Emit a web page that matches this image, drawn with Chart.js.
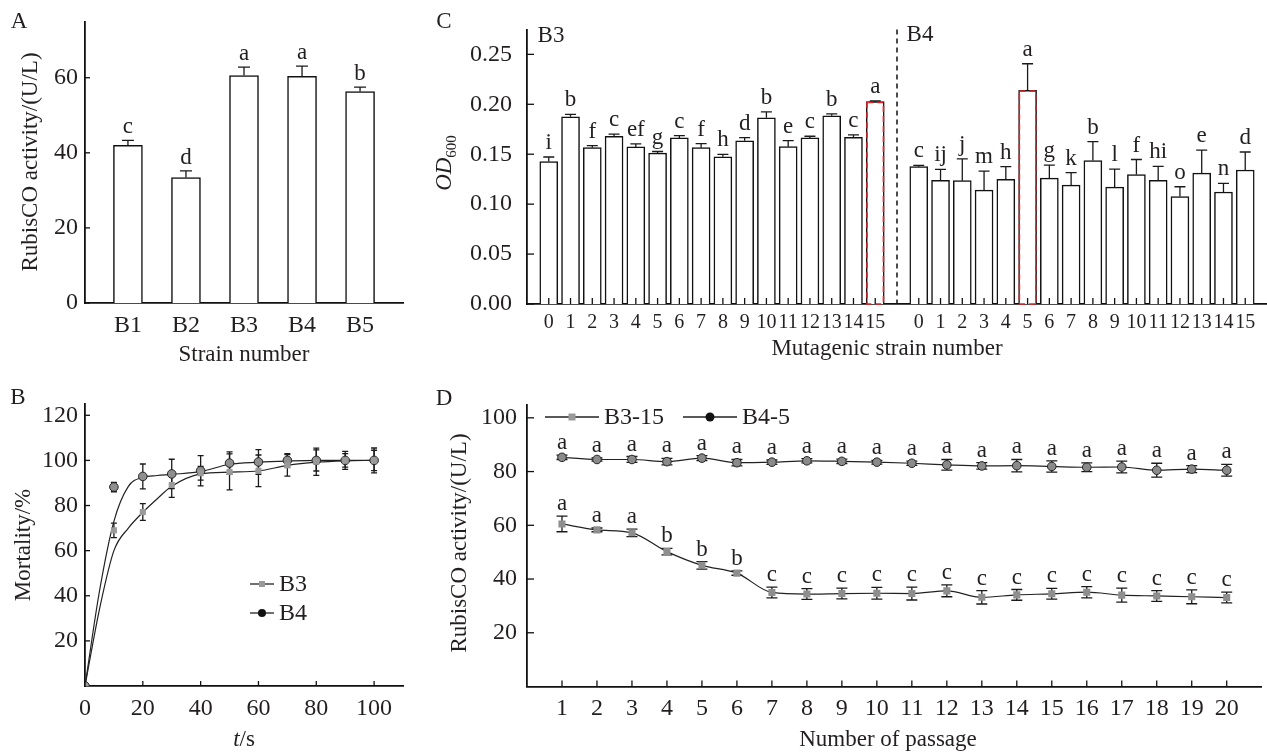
<!DOCTYPE html>
<html>
<head>
<meta charset="utf-8">
<script src="https://cdn.jsdelivr.net/npm/chart.js@4.4.1/dist/chart.umd.min.js"></script>
<style>
body { margin: 0; background: #fff; width: 1267px; height: 753px; position: relative; overflow: hidden;
       font-family: "Liberation Serif", "Times New Roman", serif; color: #231f20; }
.panel { position: absolute; }
.t { position: absolute; white-space: nowrap; font-size: 23px; line-height: 1; transform: translate(-50%, -50%); }
.r { transform: translate(-50%, -50%) rotate(-90deg); }
.sub { font-size: 15px; position: relative; top: 5px; }
</style>
</head>
<body>
<div class="panel" style="left:0;top:0;width:420px;height:380px"><canvas id="cA"></canvas></div>
<div class="panel" style="left:0;top:380px;width:420px;height:373px"><canvas id="cB"></canvas></div>
<div class="panel" style="left:420px;top:0;width:847px;height:380px"><canvas id="cC"></canvas></div>
<div class="panel" style="left:420px;top:380px;width:847px;height:373px"><canvas id="cD"></canvas></div>

<div class="t" style="left:19px;top:20px">A</div>
<div class="t r" style="left:29px;top:162px">RubisCO activity/(U/L)</div>
<div class="t" style="left:244px;top:353px">Strain number</div>

<div class="t" style="left:18px;top:396px">B</div>
<div class="t r" style="left:22px;top:545px">Mortality/%</div>
<div class="t" style="left:244px;top:738px"><i>t</i>/s</div>

<div class="t" style="left:444px;top:20px">C</div>
<div class="t r" style="left:443px;top:163px"><i>OD</i><span class="sub">600</span></div>
<div class="t" style="left:887px;top:347px">Mutagenic strain number</div>
<div class="t" style="left:551px;top:34px">B3</div>
<div class="t" style="left:920px;top:33px">B4</div>

<div class="t" style="left:444px;top:397px">D</div>
<div class="t r" style="left:458px;top:543px">RubisCO activity/(U/L)</div>
<div class="t" style="left:888px;top:738px">Number of passage</div>

<script>
// A - RubisCO activity of the five strains
const strainsA = ["B1", "B2", "B3", "B4", "B5"];
const actA = [42.0, 33.4, 60.6, 60.4, 56.3];
const errA = [1.3, 1.8, 2.2, 2.7, 1.2];
const letA = ["c", "d", "a", "a", "b"];
const ticksA = [0, 20, 40, 60];

// B - mortality vs time
const timeB = [0, 10, 20, 30, 40, 50, 60, 70, 80, 90, 100];
const seriesB = ["B3", "B4"];
const mortB3 = [0, 69.0, 77.1, 89.1, 94.3, 94.9, 95.4, 97.8, 99.4, 100, 100];
const errB3 = [0, 3.2, 3.7, 5.5, 3.0, 8.0, 7.0, 4.8, 6.0, 3.0, 4.5];
const mortB4 = [0, 88.2, 92.9, 94.0, 95.4, 98.8, 99.3, 100, 100, 100, 100];
const errB4 = [0, 2.1, 5.5, 6.5, 6.7, 5.0, 5.5, 3.0, 4.7, 4.0, 5.5];
// fitted curves
const fitT = [0, 5, 10, 15, 20, 25, 30, 40, 50, 60, 70, 80, 90, 100];
const fitB3 = [0, 34, 60, 70, 77, 83, 88.5, 94, 94.8, 95.3, 97.8, 99.2, 99.8, 100];
const fitB4 = [0, 42, 73, 88.5, 92.5, 93.3, 93.8, 95, 98.3, 99.2, 99.7, 100, 100, 100];
const ticksBy = [20, 40, 60, 80, 100, 120];
const ticksBx = [0, 20, 40, 60, 80, 100];

// C - OD600 of mutagenic strains
const strainNo = ["0", "1", "2", "3", "4", "5", "6", "7", "8", "9", "10", "11", "12", "13", "14", "15"];
const odB3 = [0.1427, 0.1874, 0.1566, 0.168, 0.1573, 0.1511, 0.1663, 0.1566, 0.1475, 0.1634, 0.1864, 0.1576, 0.1663, 0.1884, 0.167, 0.2026];
const errC3 = [0.0045, 0.0026, 0.002, 0.0022, 0.003, 0.0016, 0.0023, 0.004, 0.0023, 0.0033, 0.006, 0.006, 0.0017, 0.002, 0.0023, 0.0007];
const letC3 = ["i", "b", "f", "c", "ef", "g", "c", "f", "h", "d", "b", "e", "c", "b", "c", "a"];
const odB4 = [0.1375, 0.1239, 0.1235, 0.1141, 0.1248, 0.214, 0.1261, 0.119, 0.1436, 0.117, 0.1297, 0.1239, 0.1077, 0.131, 0.1122, 0.1342];
const errC4 = [0.0013, 0.011, 0.0218, 0.019, 0.0127, 0.0266, 0.013, 0.0126, 0.019, 0.018, 0.015, 0.014, 0.0097, 0.023, 0.0087, 0.018];
const letC4 = ["c", "ij", "j", "m", "h", "a", "g", "k", "b", "l", "f", "hi", "o", "e", "n", "d"];
const ticksC = [0, 0.05, 0.10, 0.15, 0.20, 0.25];
const bestC3 = 15, bestC4 = 5;

// D - RubisCO activity over passages
const passage = [1, 2, 3, 4, 5, 6, 7, 8, 9, 10, 11, 12, 13, 14, 15, 16, 17, 18, 19, 20];
const seriesD = ["B3-15", "B4-5"];
const actD3 = [60.5, 58.3, 57.2, 50.2, 45.1, 42.2, 35.0, 34.4, 34.6, 34.7, 34.6, 35.6, 33.2, 34.1, 34.5, 35.1, 34.0, 33.7, 33.4, 33.1];
const errD3 = [2.9, 0.7, 1.4, 1.2, 1.4, 0.8, 2.0, 2.0, 2.0, 2.2, 2.4, 2.2, 2.5, 2.0, 2.0, 2.1, 2.6, 2.0, 2.6, 2.0];
const letD3 = ["a", "a", "a", "b", "b", "b", "c", "c", "c", "c", "c", "c", "c", "c", "c", "c", "c", "c", "c", "c"];
const actD4 = [85.3, 84.5, 84.5, 83.7, 85.0, 83.3, 83.5, 84.0, 83.8, 83.5, 83.1, 82.5, 82.1, 82.2, 81.9, 81.6, 81.7, 80.5, 80.9, 80.5];
const errD4 = [0.8, 0.6, 1.1, 1.2, 0.9, 1.2, 0.8, 0.8, 0.8, 0.7, 0.8, 2.0, 1.2, 2.3, 2.1, 1.6, 2.2, 2.6, 1.3, 2.2];
const letD4 = passage.map(() => "a");
const ticksD = [20, 40, 60, 80, 100];

const INK = "#231f20";
const FONT = '"Liberation Serif", "Times New Roman", serif';
Chart.defaults.font.family = FONT;
Chart.defaults.font.size = 24;
Chart.defaults.color = INK;

// error bars, letters, red dashed boxes, divider, inward ticks, legend
const deco = {
    id: "deco",
    beforeDatasetsDraw(chart, args, o) {
        const ctx = chart.ctx;
        ctx.save();
        ctx.strokeStyle = "#1a1a1a";
        ctx.lineWidth = 1.3;
        (o.err || []).forEach(s => {
            const meta = chart.getDatasetMeta(s.ds);
            const data = chart.data.datasets[s.ds].data;
            meta.data.forEach((el, j) => {
                const e = s.val[j];
                if (!e) return;
                const v = data[j].y;
                const yt = meta.yScale.getPixelForValue(v + e);
                const yb = meta.yScale.getPixelForValue(s.upOnly ? v : v - e);
                const h = s.cap / 2;
                ctx.beginPath();
                ctx.moveTo(el.x, yb); ctx.lineTo(el.x, yt);
                ctx.moveTo(el.x - h, yt); ctx.lineTo(el.x + h, yt);
                if (!s.upOnly) { ctx.moveTo(el.x - h, yb); ctx.lineTo(el.x + h, yb); }
                ctx.stroke();
            });
        });
        ctx.restore();
    },
    afterDatasetsDraw(chart, args, o) {
        const ctx = chart.ctx, area = chart.chartArea;
        ctx.save();

        ctx.fillStyle = INK;
        ctx.font = "23px " + FONT;
        ctx.textAlign = "center";
        ctx.textBaseline = "alphabetic";
        (o.err || []).forEach(s => {
            if (!s.text) return;
            const meta = chart.getDatasetMeta(s.ds);
            const data = chart.data.datasets[s.ds].data;
            meta.data.forEach((el, j) => {
                const yt = meta.yScale.getPixelForValue(data[j].y + s.val[j]);
                ctx.fillText(s.text[j], el.x, yt - s.gap);
            });
        });

        (o.mark || []).forEach(m => {
            const el = chart.getDatasetMeta(m.ds).data[m.idx];
            ctx.strokeStyle = "#e3262b";
            ctx.lineWidth = 1.6;
            ctx.setLineDash([6, 4]);
            ctx.strokeRect(el.x - el.width / 2 + 0.8, el.y + 0.8, el.width - 1.6, el.base - el.y - 0.8);
            ctx.setLineDash([]);
        });

        if (o.divider != null) {
            const x = chart.scales.x.getPixelForValue(o.divider);
            ctx.strokeStyle = "#111";
            ctx.lineWidth = 1.5;
            ctx.setLineDash([5, 4]);
            ctx.beginPath();
            ctx.moveTo(x, area.top); ctx.lineTo(x, area.bottom);
            ctx.stroke();
            ctx.setLineDash([]);
        }

        (o.ticks || []).forEach(t => {
            const sc = chart.scales[t.id];
            ctx.strokeStyle = "#111";
            ctx.lineWidth = 1.3;
            sc.ticks.forEach(tk => {
                const p = sc.getPixelForValue(tk.value);
                ctx.beginPath();
                if (sc.isHorizontal()) { ctx.moveTo(p, area.bottom); ctx.lineTo(p, area.bottom - t.len); }
                else { ctx.moveTo(area.left, p); ctx.lineTo(area.left + t.len, p); }
                ctx.stroke();
            });
        });

        (o.legend || []).forEach(it => {
            ctx.strokeStyle = "#222";
            ctx.lineWidth = 1.3;
            ctx.beginPath();
            ctx.moveTo(it.x1, it.y); ctx.lineTo(it.x2, it.y);
            ctx.stroke();
            ctx.fillStyle = it.fill;
            const m = (it.x1 + it.x2) / 2;
            if (it.shape === "rect") {
                ctx.fillRect(m - it.size / 2, it.y - it.size / 2, it.size, it.size);
            } else {
                ctx.beginPath();
                ctx.arc(m, it.y, it.size / 2, 0, Math.PI * 2);
                ctx.fill();
            }
            ctx.fillStyle = INK;
            ctx.font = "24px " + FONT;
            ctx.textAlign = "left";
            ctx.textBaseline = "middle";
            ctx.fillText(it.text, it.x2 + 5, it.y + 1);
        });

        ctx.restore();
    }
};

function yAxis(min, max, ticks, width, pad, fmt) {
    return {
        type: "linear", min: min, max: max,
        afterFit: s => { s.width = width; },
        afterBuildTicks: s => { s.ticks = ticks.map(v => ({ value: v })); },
        grid: { display: false, drawTicks: false },
        border: { display: true, color: "#111", width: 1.8 },
        ticks: { padding: pad, callback: fmt || (v => v) }
    };
}

function xAxis(min, max, pos, height, pad, labels, size) {
    return {
        type: "linear", min: min, max: max, offset: false,
        afterFit: s => { s.height = height; },
        afterBuildTicks: s => { s.ticks = pos.map(v => ({ value: v })); },
        grid: { display: false, drawTicks: false, offset: false },
        border: { display: true, color: "#111", width: 1.8 },
        ticks: {
            padding: pad, autoSkip: false, maxRotation: 0, minRotation: 0,
            font: { size: size || 24 },
            callback: (v, i) => labels[i]
        }
    };
}

const base = {
    animation: false,
    responsive: true,
    maintainAspectRatio: false,
    events: []
};

// ---------- A ----------
new Chart(document.getElementById("cA"), {
    type: "bar",
    data: {
        datasets: [{
            data: strainsA.map((s, i) => ({ x: i + 1, y: actA[i] })),
            backgroundColor: "#fff", borderColor: "#111", borderWidth: 1.5,
            barThickness: 29, grouped: false
        }]
    },
    options: Object.assign({}, base, {
        layout: { padding: { top: 20, right: 17, left: 0, bottom: 0 } },
        plugins: {
            legend: { display: false }, tooltip: { enabled: false },
            deco: {
                err: [{ ds: 0, val: errA, upOnly: true, cap: 12, text: letA, gap: 7 }],
                ticks: [{ id: "y", len: 5 }]
            }
        },
        scales: {
            x: xAxis(0.26, 5.74, strainsA.map((s, i) => i + 1), 77, 8, strainsA),
            y: yAxis(0, 75, ticksA, 85, 7)
        }
    }),
    plugins: [deco]
});

// ---------- B ----------
new Chart(document.getElementById("cB"), {
    type: "line",
    data: {
        datasets: [
            {
                label: seriesB[0], data: timeB.map((t, i) => ({ x: t, y: mortB3[i] })), showLine: false,
                pointStyle: "rect", pointRadius: 4.3, pointBackgroundColor: "#9a9a9a", pointBorderColor: "#9a9a9a", pointBorderWidth: 0
            },
            {
                label: seriesB[1], data: timeB.map((t, i) => ({ x: t, y: mortB4[i] })), showLine: false,
                pointStyle: "circle", pointRadius: 4.3, pointBackgroundColor: "#8f8f8f", pointBorderColor: "#222", pointBorderWidth: 1
            },
            {
                data: fitT.map((t, i) => ({ x: t, y: fitB3[i] })), pointRadius: 0,
                borderColor: "#222", borderWidth: 1.2, cubicInterpolationMode: "monotone"
            },
            {
                data: fitT.map((t, i) => ({ x: t, y: fitB4[i] })), pointRadius: 0,
                borderColor: "#222", borderWidth: 1.2, cubicInterpolationMode: "monotone"
            }
        ]
    },
    options: Object.assign({}, base, {
        layout: { padding: { top: 24, right: 17, left: 0, bottom: 0 } },
        plugins: {
            legend: { display: false }, tooltip: { enabled: false },
            deco: {
                err: [
                    { ds: 0, val: errB3, cap: 6 },
                    { ds: 1, val: errB4, cap: 6 }
                ],
                ticks: [{ id: "y", len: 5 }, { id: "x", len: 5 }],
                legend: [
                    { x1: 250, x2: 274, y: 204, text: seriesB[0], shape: "rect", size: 6, fill: "#9a9a9a" },
                    { x1: 250, x2: 274, y: 233, text: seriesB[1], shape: "circle", size: 8, fill: "#111" }
                ]
            }
        },
        scales: {
            x: xAxis(0, 110, ticksBx, 67, 8, ticksBx.map(String)),
            y: yAxis(0, 125, ticksBy, 85, 7)
        }
    }),
    plugins: [deco]
});

// ---------- C ----------
const posC3 = strainNo.map((s, i) => i);
const posC4 = strainNo.map((s, i) => i + strainNo.length + 1);
new Chart(document.getElementById("cC"), {
    type: "bar",
    data: {
        datasets: [
            {
                label: "B3", data: posC3.map((x, i) => ({ x: x, y: odB3[i] })),
                backgroundColor: "#fff", borderColor: "#111", borderWidth: 1.5, barThickness: 18, grouped: false
            },
            {
                label: "B4", data: posC4.map((x, i) => ({ x: x, y: odB4[i] })),
                backgroundColor: "#fff", borderColor: "#111", borderWidth: 1.5, barThickness: 18, grouped: false
            }
        ]
    },
    options: Object.assign({}, base, {
        layout: { padding: { top: 22, right: 0, left: 0, bottom: 0 } },
        plugins: {
            legend: { display: false }, tooltip: { enabled: false },
            deco: {
                err: [
                    { ds: 0, val: errC3, upOnly: true, cap: 11, text: letC3, gap: 8 },
                    { ds: 1, val: errC4, upOnly: true, cap: 11, text: letC4, gap: 8 }
                ],
                mark: [{ ds: 0, idx: bestC3 }, { ds: 1, idx: bestC4 }],
                divider: strainNo.length,
                ticks: [{ id: "y", len: 7 }, { id: "x", len: 6 }]
            }
        },
        scales: {
            x: xAxis(-1, 33, posC3.concat(posC4), 76, 7, strainNo.concat(strainNo), 20),
            y: yAxis(0, 0.275, ticksC, 107, 15, v => v.toFixed(2))
        }
    }),
    plugins: [deco]
});

// ---------- D ----------
new Chart(document.getElementById("cD"), {
    type: "line",
    data: {
        datasets: [
            {
                label: seriesD[0], data: passage.map((p, i) => ({ x: p, y: actD3[i] })),
                borderColor: "#222", borderWidth: 1.2, cubicInterpolationMode: "monotone",
                pointStyle: "rect", pointRadius: 5, pointBackgroundColor: "#8e8e8e", pointBorderColor: "#8e8e8e", pointBorderWidth: 0
            },
            {
                label: seriesD[1], data: passage.map((p, i) => ({ x: p, y: actD4[i] })),
                borderColor: "#222", borderWidth: 1.2, cubicInterpolationMode: "monotone",
                pointStyle: "circle", pointRadius: 4.3, pointBackgroundColor: "#8a8a8a", pointBorderColor: "#222", pointBorderWidth: 1
            }
        ]
    },
    options: Object.assign({}, base, {
        layout: { padding: { top: 24, right: 0, left: 0, bottom: 0 } },
        plugins: {
            legend: { display: false }, tooltip: { enabled: false },
            deco: {
                err: [
                    { ds: 0, val: errD3, cap: 11, text: letD3, gap: 6 },
                    { ds: 1, val: errD4, cap: 11, text: letD4, gap: 6 }
                ],
                ticks: [{ id: "y", len: 7 }, { id: "x", len: 6 }],
                legend: [
                    { x1: 125, x2: 179, y: 37, text: seriesD[0], shape: "rect", size: 7, fill: "#9a9a9a" },
                    { x1: 263, x2: 317, y: 37, text: seriesD[1], shape: "circle", size: 9, fill: "#111" }
                ]
            }
        },
        scales: {
            x: xAxis(0, 21, passage, 66.5, 8, passage.map(String)),
            y: yAxis(0, 105, ticksD, 107, 10)
        }
    }),
    plugins: [deco]
});
</script>
</body>
</html>
